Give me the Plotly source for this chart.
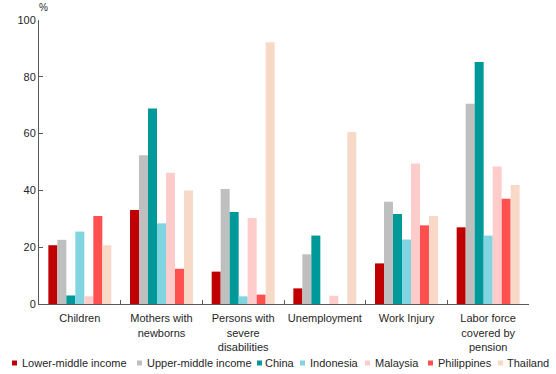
import plotly.graph_objects as go

categories = ["Children", "Mothers with<br>newborns", "Persons with<br>severe<br>disabilities",
              "Unemployment", "Work Injury", "Labor force<br>covered by<br>pension"]

series_names = ["Lower-middle income", "Upper-middle income", "China", "Indonesia",
                "Malaysia", "Philippines", "Thailand"]

lower_middle = [20.7, 33.1, 11.4, 5.5, 14.3, 27.0]
upper_middle = [22.6, 52.4, 40.5, 17.5, 36.0, 70.5]
china = [3.0, 68.8, 32.4, 24.1, 31.7, 85.2]
indonesia = [25.5, 28.4, 2.7, None, 22.7, 24.1]
malaysia = [2.7, 46.2, 30.3, 2.9, 49.5, 48.4]
philippines = [31.0, 12.4, 3.3, None, 27.7, 37.1]
thailand = [20.7, 40.0, 92.2, 60.6, 31.0, 41.9]

y_ticks = [0, 20, 40, 60, 80, 100]

series_values = [lower_middle, upper_middle, china, indonesia, malaysia, philippines, thailand]
colors = ["#C00000", "#BFBFBF", "#009999", "#80D5E1", "#FFCCCC", "#FF5050", "#F8D9C8"]

FONT = "Liberation Sans, Arial, sans-serif"
TEXT = "#262626"

fig = go.Figure()
for name, vals, col in zip(series_names, series_values, colors):
    fig.add_trace(go.Bar(name=name, x=categories, y=vals, marker=dict(color=col, line=dict(width=0)),
                         showlegend=False))

# Compact legend row: a coloured square followed by the series name
plot_left, plot_w, plot_top, plot_h = 39, 490, 20, 284
legend_sq_x = [12, 137, 257, 300, 365, 428, 498]
legend_txt_x = [20, 145, 263, 308, 373, 436, 505]
legend_y = (plot_top + plot_h - 363) / plot_h
for name, col, sx, tx in zip(series_names, colors, legend_sq_x, legend_txt_x):
    fig.add_shape(type="rect", xref="paper", yref="paper",
                  x0=(sx - plot_left) / plot_w, x1=(sx + 5 - plot_left) / plot_w,
                  y0=legend_y - 2.5 / plot_h, y1=legend_y + 2.5 / plot_h,
                  fillcolor=col, line=dict(width=0))
    fig.add_annotation(x=(tx - plot_left) / plot_w, y=legend_y, xref="paper", yref="paper",
                       xanchor="left", yanchor="middle", showarrow=False, text=name,
                       font=dict(family=FONT, size=11, color=TEXT))

fig.add_annotation(x=0.0, y=1.0, xref="paper", yref="paper", xanchor="left", yanchor="bottom",
                   xshift=-2, yshift=5, showarrow=False, text="%",
                   font=dict(family=FONT, size=10, color=TEXT))

fig.update_layout(
    width=556, height=374,
    margin=dict(l=39, r=27, t=20, b=70, autoexpand=False),
    paper_bgcolor="white", plot_bgcolor="white",
    barmode="group", bargap=0.229, bargroupgap=0,
    font=dict(family=FONT, size=11, color=TEXT),
)
fig.update_xaxes(showline=True, linecolor="#595959", linewidth=1, ticks="inside", ticklen=4,
                 tickcolor="#595959", tickson="boundaries", showgrid=False, tickangle=0,
                 ticklabelstandoff=4, automargin=False,
                 tickfont=dict(family=FONT, size=11, color=TEXT))
fig.update_yaxes(range=[0, 100], tickvals=y_ticks, showline=True, linecolor="#595959", linewidth=1,
                 ticks="inside", ticklen=4, tickcolor="#595959", showgrid=False, zeroline=False,
                 automargin=False, tickfont=dict(family=FONT, size=11, color=TEXT))

fig.write_html("out.html")
